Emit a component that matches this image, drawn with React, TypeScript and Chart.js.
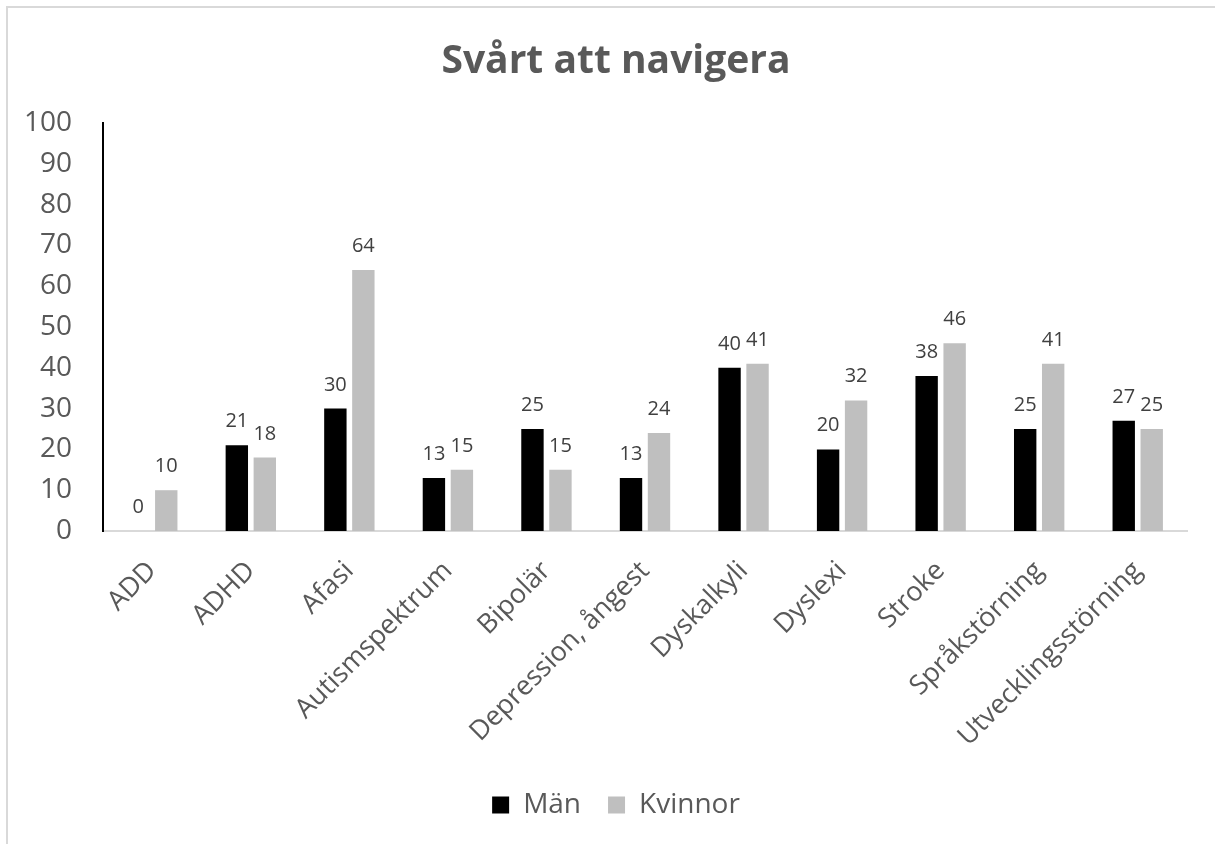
import React, { useEffect, useRef } from "react";
import { Chart, registerables } from "chart.js";

Chart.register(...registerables);

const categories = [
  "ADD",
  "ADHD",
  "Afasi",
  "Autismspektrum",
  "Bipolär",
  "Depression, ångest",
  "Dyskalkyli",
  "Dyslexi",
  "Stroke",
  "Språkstörning",
  "Utvecklingsstörning",
];
const manValues = [0, 21, 30, 13, 25, 13, 40, 20, 38, 25, 27];
const kvinnorValues = [10, 18, 64, 15, 15, 24, 41, 32, 46, 41, 25];
const seriesNames = ["Män", "Kvinnor"];
const titleText = "Svårt att navigera";
const yMin = 0;
const yMax = 100;
const yStep = 10;

const FONT = '"Open Sans", "DejaVu Sans", sans-serif';

const dataLabelPlugin = {
  id: "barValueLabels",
  afterDatasetsDraw(chart: any) {
    const ctx = chart.ctx;
    ctx.save();
    ctx.font = `20px ${FONT}`;
    ctx.fillStyle = "#404040";
    ctx.textAlign = "center";
    ctx.textBaseline = "alphabetic";
    chart.data.datasets.forEach((ds: any, i: number) => {
      const meta = chart.getDatasetMeta(i);
      meta.data.forEach((el: any, j: number) => {
        ctx.fillText(String(ds.data[j]), el.x, el.y - 18);
      });
    });
    ctx.restore();
  },
};

export default function App() {
  const canvasRef = useRef<HTMLCanvasElement | null>(null);

  useEffect(() => {
    if (!canvasRef.current) return;
    const chart = new Chart(canvasRef.current, {
      type: "bar",
      data: {
        labels: categories,
        datasets: [
          {
            label: seriesNames[0],
            data: manValues,
            backgroundColor: "#000000",
            categoryPercentage: 0.568,
            barPercentage: 0.8,
          },
          {
            label: seriesNames[1],
            data: kvinnorValues,
            backgroundColor: "#bfbfbf",
            categoryPercentage: 0.568,
            barPercentage: 0.8,
          },
        ],
      },
      options: {
        responsive: false,
        animation: false,
        devicePixelRatio: 1,
        layout: { padding: { left: 22, right: 5, top: 0, bottom: 15 } },
        plugins: {
          title: {
            display: true,
            text: titleText,
            color: "#595959",
            font: { family: FONT, size: 39, weight: "bold" },
            padding: { top: 38, bottom: 38.2 },
          },
          legend: {
            display: true,
            position: "bottom",
            labels: {
              boxWidth: 17,
              boxHeight: 17,
              color: "#595959",
              font: { family: FONT, size: 28 },
              padding: 27,
            },
          },
          tooltip: { enabled: false },
        },
        scales: {
          x: {
            grid: { display: false, drawTicks: false },
            border: { display: true, color: "#d9d9d9", width: 2 },
            ticks: {
              color: "#595959",
              font: { family: FONT, size: 27 },
              minRotation: 45,
              maxRotation: 45,
              padding: 24,
              autoSkip: false,
            },
            afterFit: (scale: any) => {
              scale.height = 233;
            },
          },
          y: {
            min: yMin,
            max: yMax,
            grid: { display: false, drawTicks: false },
            border: { display: true, color: "#000000", width: 2 },
            ticks: {
              stepSize: yStep,
              color: "#595959",
              font: { family: FONT, size: 28 },
              padding: 31,
            },
            afterFit: (scale: any) => {
              scale.width = 81;
            },
          },
          spacer: {
            type: "linear",
            position: "right",
            display: true,
            grid: { display: false, drawTicks: false },
            border: { display: false },
            ticks: { display: false },
            afterFit: (scale: any) => {
              scale.width = 23;
            },
          },
        },
      },
      plugins: [dataLabelPlugin],
    });
    return () => chart.destroy();
  }, []);

  return (
    <div
      style={{
        position: "fixed",
        left: 0,
        top: 0,
        width: 1215,
        height: 844,
        overflow: "hidden",
        background: "#ffffff",
      }}
    >
      <div
        style={{
          position: "absolute",
          left: 6,
          top: 6,
          right: 0,
          bottom: 0,
          borderLeft: "2px solid #d9d9d9",
          borderTop: "2px solid #d9d9d9",
        }}
      />
      <canvas
        ref={canvasRef}
        width={1215}
        height={844}
        style={{ position: "absolute", left: 0, top: 0, width: 1215, height: 844 }}
      />
    </div>
  );
}
